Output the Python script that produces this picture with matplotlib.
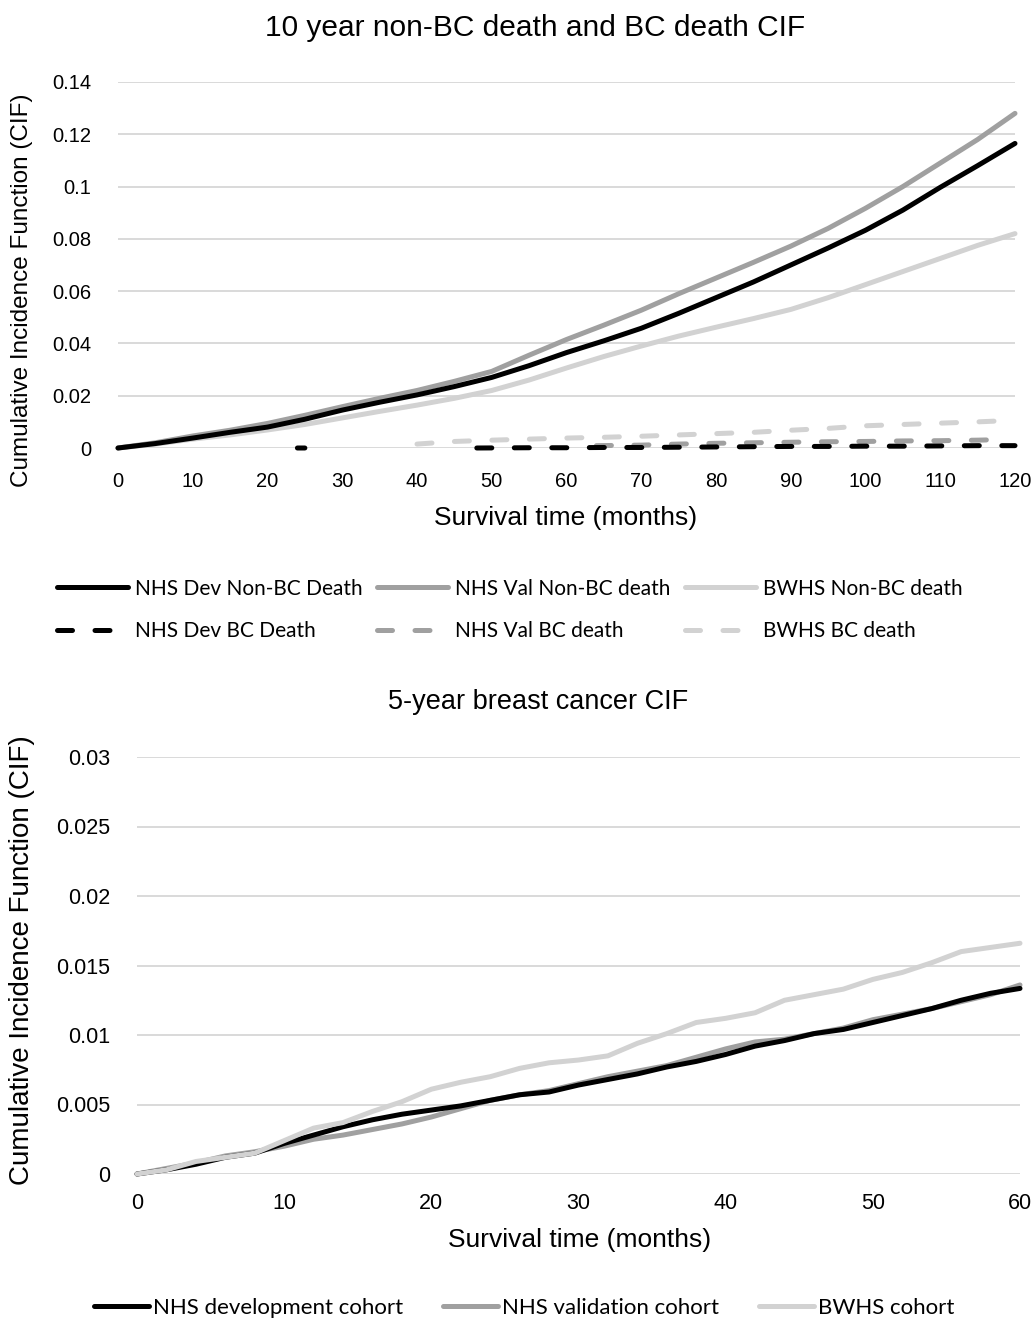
import numpy as np
import matplotlib
matplotlib.use("Agg")
import matplotlib.pyplot as plt

plt.rcParams['font.family'] = ['Liberation Sans', 'DejaVu Sans']

# ---------------- Top chart data (10-year CIF) ----------------
months_top = [0, 5, 10, 15, 20, 25, 30, 35, 40, 45, 50, 55, 60, 65, 70, 75, 80, 85, 90, 95, 100, 105, 110, 115, 120]
nhs_dev_nonbc = [0, 0.0017, 0.0038, 0.0060, 0.0080, 0.0110, 0.0145, 0.0175, 0.0203, 0.0235, 0.0270, 0.0315,
                 0.0365, 0.0410, 0.0458, 0.0515, 0.0575, 0.0635, 0.0700, 0.0765, 0.0833, 0.0910, 0.0997, 0.1080, 0.1165]
nhs_val_nonbc = [0, 0.0020, 0.0046, 0.0068, 0.0094, 0.0125, 0.0158, 0.0190, 0.0220, 0.0255, 0.0293, 0.0355,
                 0.0415, 0.0470, 0.0527, 0.0590, 0.0650, 0.0710, 0.0772, 0.0840, 0.0917, 0.1000, 0.1090, 0.1180, 0.1280]
bwhs_nonbc = [0, 0.0015, 0.0034, 0.0050, 0.0069, 0.0090, 0.0115, 0.0140, 0.0164, 0.0190, 0.0220, 0.0260,
              0.0306, 0.0350, 0.0390, 0.0428, 0.0462, 0.0495, 0.0530, 0.0575, 0.0625, 0.0675, 0.0725, 0.0775, 0.0820]

months_dev_bc = [24, 25, 26, 48, 55, 60, 65, 70, 75, 80, 85, 90, 95, 100, 105, 110, 115, 120]
nhs_dev_bc = [0, 0, np.nan, 0, 0.0001, 0.0001, 0.0002, 0.0002, 0.0003, 0.0004, 0.0005, 0.0006, 0.0006, 0.0007, 0.0007, 0.0008, 0.0009, 0.0009]
months_val_bc = [64, 70, 75, 80, 85, 90, 95, 100, 105, 110, 115, 118]
nhs_val_bc = [0.0009, 0.0011, 0.0015, 0.0018, 0.0020, 0.0022, 0.0024, 0.0025, 0.0027, 0.0028, 0.0030, 0.0032]
months_bwhs_bc = [40, 45, 50, 55, 60, 65, 70, 75, 80, 85, 90, 95, 100, 105, 110, 115, 120]
bwhs_bc = [0.0015, 0.0025, 0.0030, 0.0034, 0.0038, 0.0041, 0.0045, 0.0050, 0.0055, 0.0060, 0.0068, 0.0075, 0.0085, 0.0090, 0.0095, 0.0100, 0.0106]

top_xticks = list(range(0, 121, 10))
top_yticks = [0, 0.02, 0.04, 0.06, 0.08, 0.1, 0.12, 0.14]
top_yticklabels = ['0', '0.02', '0.04', '0.06', '0.08', '0.1', '0.12', '0.14']

# ---------------- Bottom chart data (5-year BC CIF) ----------------
months_bot = [0, 2, 4, 6, 8, 10, 12, 14, 16, 18, 20, 22, 24, 26, 28, 30,
              32, 34, 36, 38, 40, 42, 44, 46, 48, 50, 52, 54, 56, 58, 60]
nhs_dev_cohort = [0, 0.0003, 0.0007, 0.0012, 0.0015, 0.0022, 0.0028, 0.0034, 0.0039, 0.0043, 0.0046,
                  0.0049, 0.0053, 0.0057, 0.0059, 0.0064, 0.0068, 0.0072, 0.0077, 0.0081, 0.0086,
                  0.0092, 0.0096, 0.0101, 0.0104, 0.0109, 0.0114, 0.0119, 0.0125, 0.0130, 0.01335]
nhs_val_cohort = [0, 0.0004, 0.0008, 0.0013, 0.0016, 0.0020, 0.0025, 0.0028, 0.0032, 0.0036, 0.0041,
                  0.0047, 0.0053, 0.0057, 0.0060, 0.0065, 0.0070, 0.0074, 0.0078, 0.0084, 0.0090,
                  0.0095, 0.0097, 0.0101, 0.0105, 0.0111, 0.0115, 0.0119, 0.0124, 0.0129, 0.0136]
bwhs_cohort = [0, 0.0003, 0.0009, 0.0012, 0.0015, 0.0024, 0.0033, 0.0037, 0.0045, 0.0052, 0.0061,
               0.0066, 0.0070, 0.0076, 0.0080, 0.0082, 0.0085, 0.0094, 0.0101, 0.0109, 0.0112,
               0.0116, 0.0125, 0.0129, 0.0133, 0.0140, 0.0145, 0.0152, 0.0160, 0.0163, 0.0166]

bot_xticks = list(range(0, 61, 10))
bot_yticks = [0, 0.005, 0.01, 0.015, 0.02, 0.025, 0.03]
bot_yticklabels = ['0', '0.005', '0.01', '0.015', '0.02', '0.025', '0.03']

BLACK = '#000000'
MID = '#a0a0a0'
LIGHT = '#d2d2d2'
GRID = '#d9d9d9'
LW = 3.6
DASH = (3, 4.5)

W, H = 1035, 1320
fig = plt.figure(figsize=(W / 100, H / 100), dpi=100)


def style_axes(ax, xt, yt, ytl, xlim, ylim, tfs, xpad):
    ax.set_xlim(*xlim)
    ax.set_ylim(*ylim)
    ax.set_xticks(xt)
    ax.set_xticklabels([str(v) for v in xt])
    ax.set_yticks(yt)
    ax.set_yticklabels(ytl)
    for s in ax.spines.values():
        s.set_visible(False)
    ax.grid(axis='y', color=GRID, linewidth=1.4)
    ax.set_axisbelow(True)
    ax.tick_params(axis='both', length=0, labelsize=tfs, colors='#000000')
    ax.tick_params(axis='y', pad=19)
    ax.tick_params(axis='x', pad=xpad)


# ---------------- Top axes ----------------
ax1 = fig.add_axes([118 / W, 1 - 448 / H, (1015 - 118) / W, (448 - 82) / H])
style_axes(ax1, top_xticks, top_yticks, top_yticklabels, (0, 120), (0, 0.14), 14.5, 17)

kw_solid = dict(lw=LW, solid_capstyle='round', solid_joinstyle='round', clip_on=False)
kw_dash = dict(lw=LW, dashes=DASH, dash_capstyle='round', clip_on=False)
l1, = ax1.plot(months_top, nhs_dev_nonbc, color=BLACK, zorder=5, **kw_solid)
l2, = ax1.plot(months_top, nhs_val_nonbc, color=MID, zorder=4, **kw_solid)
l3, = ax1.plot(months_top, bwhs_nonbc, color=LIGHT, zorder=3, **kw_solid)
l4, = ax1.plot(months_dev_bc, nhs_dev_bc, color=BLACK, zorder=5, **kw_dash)
l5, = ax1.plot(months_val_bc, nhs_val_bc, color=MID, zorder=4, **kw_dash)
l6, = ax1.plot(months_bwhs_bc, bwhs_bc, color=LIGHT, zorder=3, **kw_dash)

fig.text(535 / W, 1 - 28 / H, '10 year non-BC death and BC death CIF', ha='center', va='center', fontsize=21.5)
fig.text(566 / W, 1 - 518 / H, 'Survival time (months)', ha='center', va='center', fontsize=19)
fig.text(22 / W, 1 - 290 / H, 'Cumulative Incidence Function (CIF)', ha='center', va='center',
         rotation=90, fontsize=17.5)

fig.legend([l1, l4, l2, l5, l3, l6],
           ['NHS Dev Non-BC Death', 'NHS Dev BC Death', 'NHS Val Non-BC death',
            'NHS Val BC death', 'BWHS Non-BC death', 'BWHS BC death'],
           ncol=3, loc='center', bbox_to_anchor=(510 / W, 1 - 610 / H), frameon=False,
           prop={'family': ['Lato', 'DejaVu Sans'], 'size': 15},
           handlelength=3.4, handletextpad=0.35, columnspacing=0.7, labelspacing=1.1,
           borderpad=0)

# ---------------- Bottom axes ----------------
ax2 = fig.add_axes([137 / W, 1 - 1174 / H, (1020 - 137) / W, (1174 - 757) / H])
style_axes(ax2, bot_xticks, bot_yticks, bot_yticklabels, (0, 60), (0, 0.03), 15.5, 14)

b1, = ax2.plot(months_bot, nhs_dev_cohort, color=BLACK, zorder=5, **kw_solid)
b2, = ax2.plot(months_bot, nhs_val_cohort, color=MID, zorder=4, **kw_solid)
b3, = ax2.plot(months_bot, bwhs_cohort, color=LIGHT, zorder=6, **kw_solid)

fig.text(538 / W, 1 - 702 / H, '5-year breast cancer CIF', ha='center', va='center', fontsize=19.5)
fig.text(580 / W, 1 - 1240 / H, 'Survival time (months)', ha='center', va='center', fontsize=19)
fig.text(22 / W, 1 - 960 / H, 'Cumulative Incidence Function (CIF)', ha='center', va='center',
         rotation=90, fontsize=20)

fig.legend([b1, b2, b3], ['NHS development cohort', 'NHS validation cohort', 'BWHS cohort'],
           ncol=3, loc='center', bbox_to_anchor=(524 / W, 1 - 1308 / H), frameon=False,
           prop={'family': ['Lato', 'DejaVu Sans'], 'size': 16},
           handlelength=2.5, handletextpad=0.15, columnspacing=1.8, borderpad=0)

fig.savefig('out.png', dpi=100)
